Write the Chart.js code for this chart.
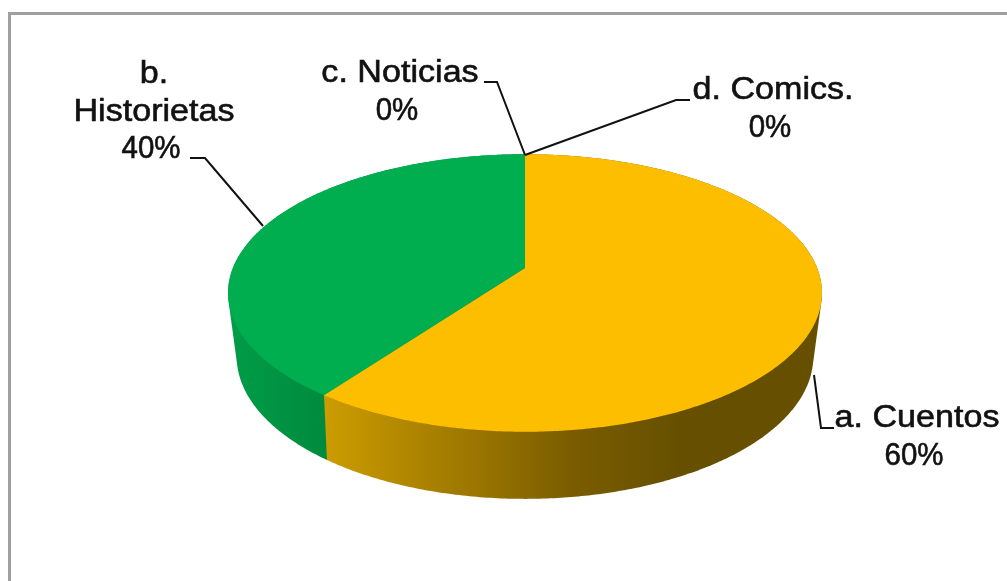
<!DOCTYPE html>
<html>
<head>
<meta charset="utf-8">
<title>Pie</title>
<script src="https://cdn.jsdelivr.net/npm/chart.js@4"></script>
<style>
    html, body { margin: 0; padding: 0; background: #fff; overflow: hidden; }
    canvas { display: block; }
</style>
</head>
<body>
<canvas id="pieChart" width="1007" height="581"></canvas>
<script>
// Values
const categories = ['a. Cuentos', 'b. Historietas', 'c. Noticias', 'd. Comics.'];
const percents = [60, 40, 0, 0];
const faceColors = ['#FEBE00', '#00AE50', '#C0504D', '#4BACC6'];

// Label boxes: one entry per category, text lines are split by hand like the original
const labelLines = [['a. Cuentos'], ['b.', 'Historietas'], ['c. Noticias'], ['d. Comics.']];
const labelPos = [
    { x: 917, y: 427 },
    { x: 154, y: 83 },
    { x: 400, y: 82 },
    { x: 773, y: 99 }
];
const leaders = [
    [[834, 428], [821, 428], [814, 375]],
    [[190, 158], [205, 158], [263, 226]],
    [[484, 82], [497, 82], [525, 155]],
    [[690, 100], [676, 100], [525, 155]]
];

// Perspective of the disc, relative to the radius of the arc element
const topRim = { a: 1.090, b: 0.501, c: 0, p: -0.18 };
const bottomRim = { a: 1.054, b: 0.510, c: 0.224, p: -0.2 };

function project(arc, rim, angle) {
    const R = arc.outerRadius;
    const x = Math.cos(angle), y = Math.sin(angle);
    const w = 1 + rim.p * y;
    return [arc.x + R * rim.a * x / w, arc.y + R * (rim.c + rim.b * y / w)];
}

function rimPoints(arc, rim, from, to) {
    const steps = Math.max(2, Math.ceil(Math.abs(to - from) / 0.01));
    const pts = [];
    for (let i = 0; i <= steps; i++) {
        pts.push(project(arc, rim, from + (to - from) * i / steps));
    }
    return pts;
}

// The side of the slice is the hull of both rims, so its outline runs straight down from the top rim
function convexHull(points) {
    const pts = points.slice().sort((p, q) => p[0] - q[0] || p[1] - q[1]);
    const cross = (o, p, q) => (p[0] - o[0]) * (q[1] - o[1]) - (p[1] - o[1]) * (q[0] - o[0]);
    const half = list => {
        const out = [];
        list.forEach(p => {
            while (out.length > 1 && cross(out[out.length - 2], out[out.length - 1], p) <= 0) out.pop();
            out.push(p);
        });
        out.pop();
        return out;
    };
    return half(pts).concat(half(pts.slice().reverse()));
}

function tracePath(ctx, pts) {
    ctx.beginPath();
    pts.forEach((p, i) => i ? ctx.lineTo(p[0], p[1]) : ctx.moveTo(p[0], p[1]));
    ctx.closePath();
}

function wallFill(ctx, index) {
    if (index === 0) {
        const g = ctx.createLinearGradient(325, 0, 680, 0);
        g.addColorStop(0, '#CC9C00');
        g.addColorStop(0.7, '#7A5C00');
        g.addColorStop(1, '#665000');
        return g;
    }
    const g = ctx.createLinearGradient(232, 0, 330, 0);
    g.addColorStop(0, '#009C47');
    g.addColorStop(1, '#00893E');
    return g;
}

const pie3d = {
    id: 'pie3d',
    beforeDraw(chart) {
        // outer frame, runs off the right and bottom of the picture
        const ctx = chart.ctx;
        ctx.save();
        ctx.strokeStyle = '#A0A0A0';
        ctx.lineWidth = 3;
        ctx.beginPath();
        ctx.moveTo(1010, 13.5);
        ctx.lineTo(9.5, 13.5);
        ctx.lineTo(9.5, 590);
        ctx.stroke();
        ctx.restore();
    },
    beforeDatasetDraw(chart, args) {
        const ctx = chart.ctx;
        const arcs = args.meta.data;
        ctx.save();
        // walls first, last slice first so the boundary of the first stays clean
        for (let i = arcs.length - 1; i >= 0; i--) {
            const arc = arcs[i];
            if (arc.endAngle - arc.startAngle <= 0) continue;
            const top = rimPoints(arc, topRim, arc.startAngle, arc.endAngle);
            const bottom = rimPoints(arc, bottomRim, arc.endAngle, arc.startAngle);
            tracePath(ctx, convexHull(top.concat(bottom)));
            ctx.fillStyle = wallFill(ctx, i);
            ctx.fill();
        }
        arcs.forEach((arc, i) => {
            if (arc.endAngle - arc.startAngle <= 0) return;
            const pts = rimPoints(arc, topRim, arc.startAngle, arc.endAngle);
            pts.push([arc.x, arc.y]);
            tracePath(ctx, pts);
            ctx.fillStyle = faceColors[i];
            ctx.fill();
        });
        ctx.restore();
        return false;
    },
    afterDraw(chart) {
        const ctx = chart.ctx;
        ctx.save();
        ctx.strokeStyle = '#111';
        ctx.lineWidth = 2;
        leaders.forEach(line => {
            ctx.beginPath();
            line.forEach((p, i) => i ? ctx.lineTo(p[0], p[1]) : ctx.moveTo(p[0], p[1]));
            ctx.stroke();
        });
        ctx.fillStyle = '#111';
        ctx.lineWidth = 0.6;
        ctx.font = '31px "Liberation Sans"';
        ctx.textAlign = 'center';
        ctx.textBaseline = 'alphabetic';
        categories.forEach((name, i) => {
            const lines = labelLines[i].concat(percents[i] + '%');
            lines.forEach((text, k) => {
                const isPercent = k === lines.length - 1;
                ctx.save();
                // the original is stretched sideways, its percent lines less so
                ctx.translate(labelPos[i].x - (isPercent ? 3 : 0), labelPos[i].y + k * 37.5);
                ctx.scale(isPercent ? 0.95 : 1.1, 1);
                ctx.fillText(text, 0, 0);
                ctx.strokeText(text, 0, 0);
                ctx.restore();
            });
        });
        ctx.restore();
    }
};

new Chart(document.getElementById('pieChart').getContext('2d'), {
    type: 'pie',
    data: {
        labels: categories,
        datasets: [{
            data: percents,
            backgroundColor: faceColors,
            borderWidth: 0
        }]
    },
    options: {
        responsive: false,
        animation: false,
        layout: { padding: { left: 43, bottom: 45 } },
        plugins: {
            legend: { display: false },
            tooltip: { enabled: false }
        }
    },
    plugins: [pie3d]
});
</script>
</body>
</html>
